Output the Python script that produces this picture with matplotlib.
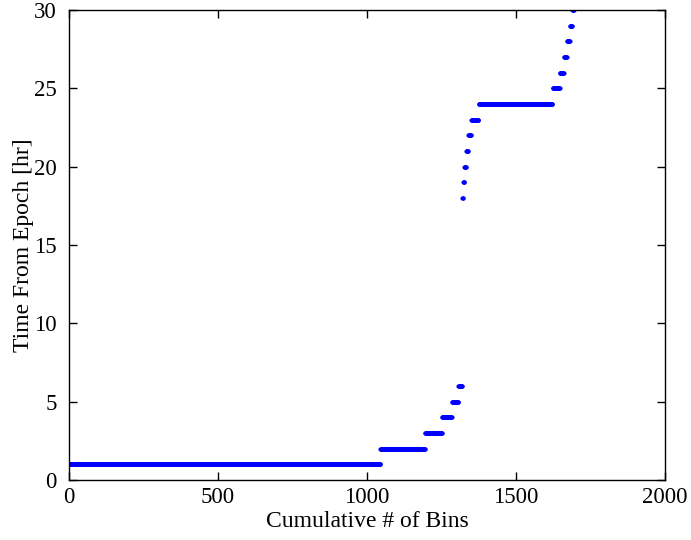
import numpy as np
import matplotlib
matplotlib.use('Agg')
import matplotlib.pyplot as plt

# hours present in the data and how many bins fall in each hour
hours = [1, 2, 3, 4, 5, 6, 18, 19, 20, 21, 22, 23, 24, 25, 26, 27, 28, 29, 30]
bin_counts = [1045, 150, 57, 33, 22, 13, 3, 4, 6, 7, 10, 25, 248, 24, 14, 10, 10, 8, 5]

x_ticks = [0, 500, 1000, 1500, 2000]
y_ticks = [0, 5, 10, 15, 20, 25, 30]


def main():
    plt.rcParams['font.family'] = ['Liberation Serif', 'DejaVu Serif']

    # one point per bin, cumulative bin index on x
    hr = np.repeat(hours, bin_counts)
    idx = np.arange(len(hr))

    fig = plt.figure(figsize=(6.91, 5.40), dpi=100)
    ax = fig.add_axes([69 / 691, 60 / 540, (665 - 69) / 691, (480 - 10) / 540])

    ax.plot(idx, hr, linestyle='none', marker='o', markersize=3.0,
            markeredgewidth=0, color='#0000ff')

    ax.set_xlim(0, 2000)
    ax.set_ylim(0, 30)
    ax.set_xticks(x_ticks)
    ax.set_yticks(y_ticks)
    ax.tick_params(direction='in', top=True, right=True, length=6,
                   width=1, labelsize=16.5)
    ax.tick_params(axis='x', pad=5)
    ax.tick_params(axis='y', pad=9)
    for s in ax.spines.values():
        s.set_linewidth(1)

    ax.set_xlabel('Cumulative # of Bins', fontsize=17, labelpad=2)
    ax.set_ylabel('Time From Epoch [hr]', fontsize=17, labelpad=0)

    fig.savefig('out.png', dpi=100)
    plt.close(fig)


if __name__ == "__main__":
    main()
